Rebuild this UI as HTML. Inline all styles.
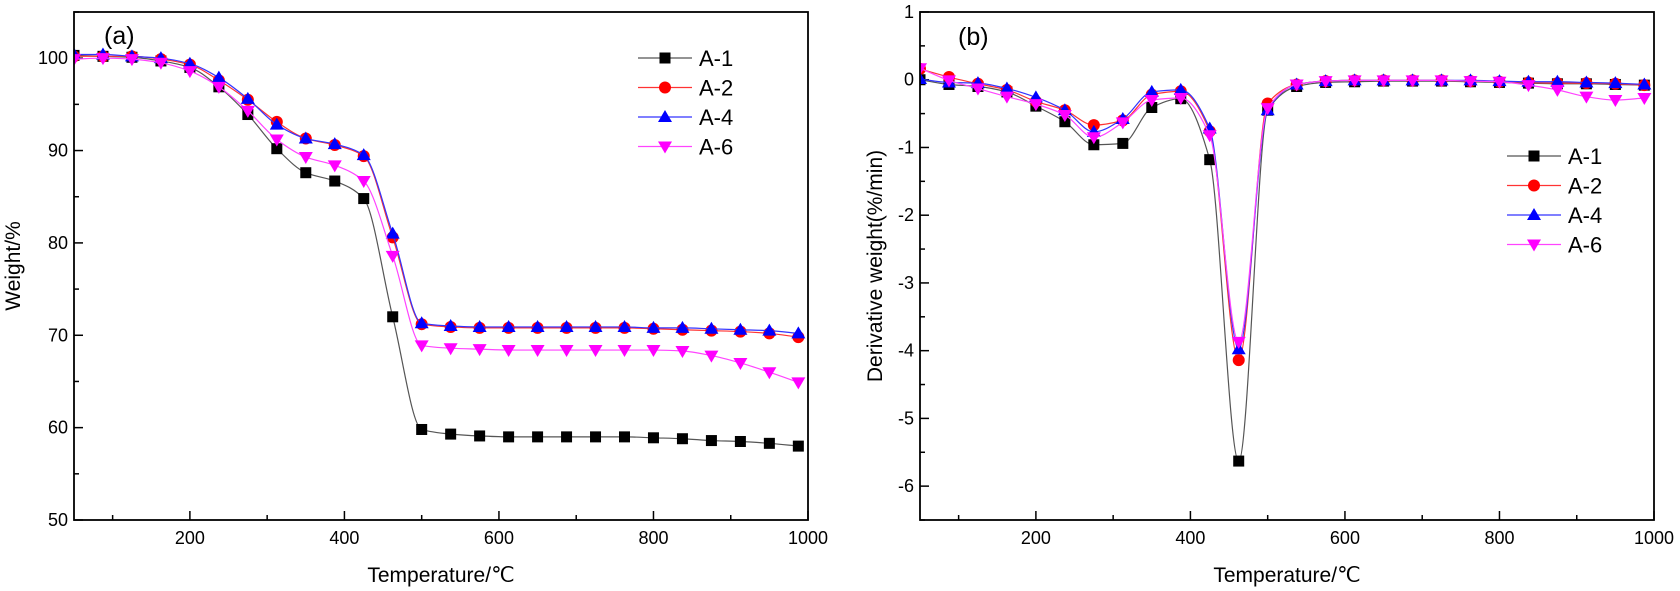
<!DOCTYPE html>
<html><head><meta charset="utf-8"><style>
html,body{margin:0;padding:0;background:#fff}
svg{display:block}
text{font-family:"Liberation Sans",Arial,sans-serif;fill:#000}
</style></head><body>
<svg id="chart" width="1680" height="591" viewBox="0 0 1680 591"></svg>
<script>
const temps = [50,87.5,125,162.5,200,237.5,275,312.5,350,387.5,425,462.5,500,537.5,575,612.5,650,687.5,725,762.5,800,837.5,875,912.5,950,987.5];
const seriesNames = ["A-1","A-2","A-4","A-6"];
const wA1 = [100.3,100.2,100.1,99.7,99.0,96.9,93.9,90.2,87.6,86.7,84.8,72.0,59.8,59.3,59.1,59.0,59.0,59.0,59.0,59.0,58.9,58.8,58.6,58.5,58.3,58.0];
const wA2 = [100.2,100.2,100.2,99.9,99.3,97.6,95.5,93.1,91.3,90.6,89.4,80.6,71.2,70.9,70.8,70.8,70.8,70.8,70.8,70.8,70.7,70.6,70.5,70.4,70.2,69.8];
const wA4 = [100.4,100.4,100.2,100.0,99.4,97.9,95.6,92.8,91.3,90.7,89.5,81.0,71.3,71.0,70.9,70.9,70.9,70.9,70.9,70.9,70.8,70.8,70.7,70.6,70.5,70.2];
const wA6 = [99.9,100.0,99.9,99.5,98.6,96.9,94.3,91.2,89.3,88.4,86.7,78.6,68.9,68.6,68.5,68.4,68.4,68.4,68.4,68.4,68.4,68.3,67.8,67.0,66.0,64.9];
const dA1 = [0.0,-0.07,-0.1,-0.18,-0.39,-0.62,-0.96,-0.94,-0.41,-0.28,-1.18,-5.63,-0.45,-0.1,-0.04,-0.03,-0.02,-0.02,-0.02,-0.03,-0.04,-0.05,-0.06,-0.06,-0.07,-0.08];
const dA2 = [0.16,0.04,-0.06,-0.15,-0.32,-0.45,-0.67,-0.6,-0.22,-0.17,-0.76,-4.14,-0.35,-0.07,-0.02,-0.01,-0.01,-0.01,-0.01,-0.02,-0.03,-0.04,-0.05,-0.05,-0.06,-0.08];
const dA4 = [0.01,-0.04,-0.05,-0.13,-0.26,-0.45,-0.77,-0.58,-0.18,-0.15,-0.72,-3.98,-0.45,-0.07,-0.02,-0.01,-0.01,-0.01,-0.01,-0.01,-0.02,-0.03,-0.03,-0.04,-0.05,-0.07];
const dA6 = [0.17,-0.01,-0.13,-0.25,-0.36,-0.52,-0.85,-0.63,-0.3,-0.27,-0.82,-3.87,-0.42,-0.07,-0.02,-0.01,-0.01,-0.01,-0.01,-0.02,-0.03,-0.08,-0.15,-0.25,-0.3,-0.27];
const xTicks = [200,400,600,800,1000];
const yTicksA = [50,60,70,80,90,100];
const yTicksB = [-6,-5,-4,-3,-2,-1,0,1];

const colors = ["#000","#ff0000","#0000ff","#ff00ff"];
const lineColors = ["#555","#ff3333","#3333ff","#ff44ff"];
const NS = "http://www.w3.org/2000/svg";
const svg = document.getElementById("chart");
function mk(tag, attrs, parent){ const e=document.createElementNS(NS,tag); for(const k in attrs) e.setAttribute(k,attrs[k]); (parent||svg).appendChild(e); return e; }

// monotone cubic (Fritsch-Carlson) — no overshoot
function spline(pts){
  const n=pts.length, dx=[], s=[], m=new Array(n);
  for(let i=0;i<n-1;i++){ dx[i]=pts[i+1][0]-pts[i][0]; s[i]=(pts[i+1][1]-pts[i][1])/dx[i]; }
  m[0]=s[0]; m[n-1]=s[n-2];
  for(let i=1;i<n-1;i++){
    if(s[i-1]*s[i]<=0) m[i]=0;
    else { const w1=2*dx[i]+dx[i-1], w2=dx[i]+2*dx[i-1]; m[i]=(w1+w2)/(w1/s[i-1]+w2/s[i]); }
  }
  let d="M"+pts[0][0]+","+pts[0][1];
  for(let i=0;i<n-1;i++){
    const h=dx[i]/3;
    d+=` C${pts[i][0]+h},${pts[i][1]+m[i]*h} ${pts[i+1][0]-h},${pts[i+1][1]-m[i+1]*h} ${pts[i+1][0]},${pts[i+1][1]}`;
  }
  return d;
}
function marker(g, kind, x, y, color){
  let m;
  if(kind===0){ m=mk("rect",{x:x-5.5,y:y-5.5,width:11,height:11,fill:color},g); }
  else if(kind===1){ m=mk("circle",{cx:x,cy:y,r:6,fill:color},g); }
  else if(kind===2){ m=mk("polygon",{points:`${x},${y-7} ${x-7},${y+5} ${x+7},${y+5}`,fill:color},g); }
  else { m=mk("polygon",{points:`${x},${y+7} ${x-7},${y-5} ${x+7},${y-5}`,fill:color},g); }
  return m;
}

function panel(cfg){
  const {L,R,T,B,ymin,ymax,yTicks,yMinorStep,series,label,ytitle,ytitleX,legX,legY,name}=cfg;
  const xs=v=>L+(v-50)/(1000-50)*(R-L);
  const ys=v=>B-(v-ymin)/(ymax-ymin)*(B-T);
  const g=mk("g",{});
  
  
  const clipId=name+"-clip";
  const cp=mk("clipPath",{id:clipId},g); mk("rect",{x:L,y:T,width:R-L,height:B-T},cp);
  for(let v=100; v<=1000; v+=100){
    const major = v%200===0;
    const t=mk("line",{x1:xs(v),x2:xs(v),y1:B,y2:B-(major?9:5),stroke:"#000","stroke-width":1.5},g);
    
    
  }
  xTicks.forEach(v=>{
    const t=mk("text",{x:xs(v),y:B+24,"font-size":18,"text-anchor":"middle"},g); t.textContent=v;
    
    
  });
  for(let v=ymin; v<=ymax+1e-9; v+=yMinorStep){
    const major = yTicks.some(t=>Math.abs(t-v)<1e-6);
    const t=mk("line",{x1:L,x2:L+(major?9:5),y1:ys(v),y2:ys(v),stroke:"#000","stroke-width":1.5},g);
    
    
  }
  yTicks.forEach(v=>{
    const t=mk("text",{x:L-6,y:ys(v)+6,"font-size":18,"text-anchor":"end"},g); t.textContent=v;
    
    
  });
  series.forEach((vals,si)=>{
    const sg=mk("g",{"clip-path":`url(#${clipId})`},g);
    
    
    const pts=temps.map((t,i)=>[xs(t),ys(vals[i])]);
    const p=mk("path",{d:spline(pts),fill:"none",stroke:lineColors[si],"stroke-width":1.2},sg);
    
    
    pts.forEach(pt=>{
      const m=marker(sg,si,pt[0],pt[1],colors[si]);
      
      
    });
  });
  const f=mk("rect",{x:L,y:T,width:R-L,height:B-T,fill:"none",stroke:"#000","stroke-width":1.8},g);
  
  
  const pl=mk("text",{x:label[1],y:label[2],"font-size":25},g); pl.textContent=label[0];
  
  
  const xt=mk("text",{x:(L+R)/2,y:582,"font-size":21,"text-anchor":"middle"},g); xt.textContent="Temperature/℃";
  
  
  const yt=mk("text",{x:0,y:0,"font-size":21,"text-anchor":"middle",transform:`translate(${ytitleX},${(T+B)/2}) rotate(-90)`},g); yt.textContent=ytitle;
  
  
  const lg=mk("g",{},g);
  
  
  seriesNames.forEach((n,i)=>{
    const y=legY+i*29.5;
    const eg=mk("g",{},lg);
    
    
    mk("line",{x1:legX,x2:legX+54,y1:y,y2:y,stroke:lineColors[i],"stroke-width":1.2},eg);
    marker(eg,i,legX+27,y,colors[i]);
    const t=mk("text",{x:legX+61,y:y+8,"font-size":22},eg); t.textContent=n;
  });
}

panel({L:74,R:808,T:12,B:520,ymin:50,ymax:105,yTicks:yTicksA,yMinorStep:5,series:[wA1,wA2,wA4,wA6],
  label:["(a)",104,44],ytitle:"Weight/%",ytitleX:20,legX:638,legY:58,name:"panel-a-tga"});
panel({L:920,R:1654,T:12,B:520,ymin:-6.5,ymax:1,yTicks:yTicksB,yMinorStep:0.5,series:[dA1,dA2,dA4,dA6],
  label:["(b)",958,45],ytitle:"Derivative weight(%/min)",ytitleX:882,legX:1507,legY:156,name:"panel-b-dtg"});
</script>
</body></html>
